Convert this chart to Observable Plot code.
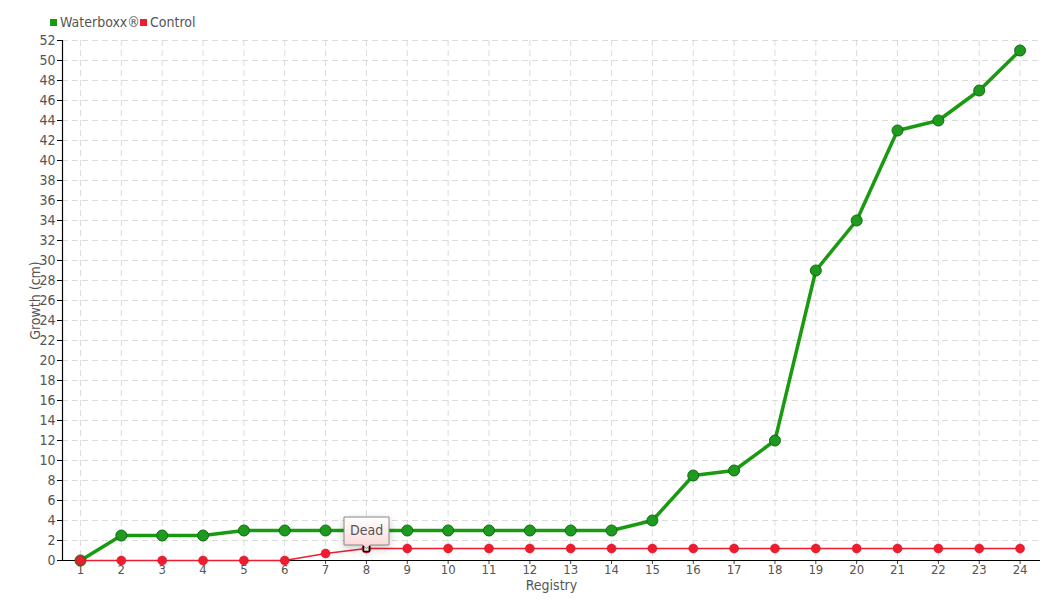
<!DOCTYPE html>
<html><head><meta charset="utf-8">
<script src="https://cdn.jsdelivr.net/npm/d3@7"></script>
<script src="https://cdn.jsdelivr.net/npm/@observablehq/plot@0.6"></script>
<style>
body{margin:0;background:#fff;font-family:"DejaVu Sans Condensed","DejaVu Sans",sans-serif;color:#555}
#legend{height:30px;position:relative;font-size:14px}
#legend span.item{position:absolute;display:flex;align-items:center;transform:translateY(-50%);white-space:nowrap}
#legend i{display:inline-block;width:7px;height:7px;margin-right:3px}
</style></head>
<body>
<div id="legend"></div>
<div id="chart"></div>
<script>
const registry = [1,2,3,4,5,6,7,8,9,10,11,12,13,14,15,16,17,18,19,20,21,22,23,24];
const waterboxx = [0,2.5,2.5,2.5,3,3,3,3,3,3,3,3,3,3,4,8.5,9,12,29,34,43,44,47,51];
const control = [0,0,0,0,0,0,0.7,1.2,1.2,1.2,1.2,1.2,1.2,1.2,1.2,1.2,1.2,1.2,1.2,1.2,1.2,1.2,1.2,1.2];
const seriesNames = ["Waterboxx®","Control"];
const seriesColors = ["#1a9a10","#ee1c2e"];
const yTicks = d3.range(0,53,2);
const annotation = [{x:8, y:1.2, label:"Dead"}];

const wData = registry.map((r,i)=>({x:r,y:waterboxx[i]}));
const cData = registry.map((r,i)=>({x:r,y:control[i]}));

const lg = document.getElementById("legend");
[[50,0],[140,1]].forEach(([left,i])=>{
  const s=document.createElement("span");s.className="item";s.style.left=left+"px";s.style.top="22px";
  s.innerHTML=`<i style="background:${seriesColors[i]}"></i>${seriesNames[i]}`;
  lg.appendChild(s);
});

const font = '"DejaVu Sans Condensed","DejaVu Sans",sans-serif';
const plot = Plot.plot({
  width:1060, height:570,
  marginTop:10, marginBottom:40, marginLeft:62, marginRight:20,
  style:{fontFamily:font, fontSize:"14px", color:"#555", background:"#fff"},
  x:{type:"linear", domain:[0.56,24.5]},
  y:{domain:[0,52]},
  marks:[
    Plot.gridX(registry,{stroke:"#ccc", strokeOpacity:0.7, strokeDasharray:"6,4"}),
    Plot.gridY(yTicks,{stroke:"#ccc", strokeOpacity:0.7, strokeDasharray:"6,4"}),
    Plot.axisX(registry,{tickSize:4, tickPadding:0, label:null, fontSize:13, fill:"#555", stroke:"#444"}),
    Plot.axisY(yTicks,{tickSize:5, tickPadding:2, label:null, fill:"#555", stroke:"#000"}),
    Plot.ruleY([0],{stroke:"#000", strokeWidth:1.2}),
    Plot.ruleX([0.56],{y1:0,y2:52,stroke:"#000", strokeWidth:1.2}),
    Plot.line(wData,{x:"x",y:"y",stroke:seriesColors[0],strokeWidth:3.5}),
    Plot.dot(wData,{x:"x",y:"y",r:5.5,fill:"#1e9a1e",stroke:"#0f6a0f",strokeWidth:1}),
    Plot.line(cData,{x:"x",y:"y",stroke:seriesColors[1],strokeWidth:1.5}),
    Plot.dot(cData,{x:"x",y:"y",r:4.5,fill:seriesColors[1],stroke:"#d01020",strokeWidth:0.5}),
    Plot.dot(annotation,{x:"x",y:"y",symbol:"square",r:3.3,fill:"#fff",stroke:"#000",strokeWidth:1.5}),
    Plot.tip(annotation,{x:"x",y:"y",title:"label",anchor:"bottom",fill:"url(#deadGrad)",stroke:"#888",pointerSize:7,textPadding:6,fontSize:14,fontFamily:font}),
    Plot.text(["Registry"],{frameAnchor:"bottom",dy:25,lineAnchor:"middle",fontSize:14,fill:"#555"}),
    Plot.text(["Growth (cm)"],{frameAnchor:"left",dx:-27,dy:0,rotate:-90,textAnchor:"middle",lineAnchor:"middle",fontSize:14,fill:"#555"})
  ]
});
const defs = d3.select(plot).insert("defs",":first-child");
const g = defs.append("linearGradient").attr("id","deadGrad").attr("x1",0).attr("y1",0).attr("x2",0).attr("y2",1);
g.append("stop").attr("offset","0%").attr("stop-color","#ffffff");
g.append("stop").attr("offset","100%").attr("stop-color","#fcd6d6");
document.getElementById("chart").appendChild(plot);
</script>
</body></html>
